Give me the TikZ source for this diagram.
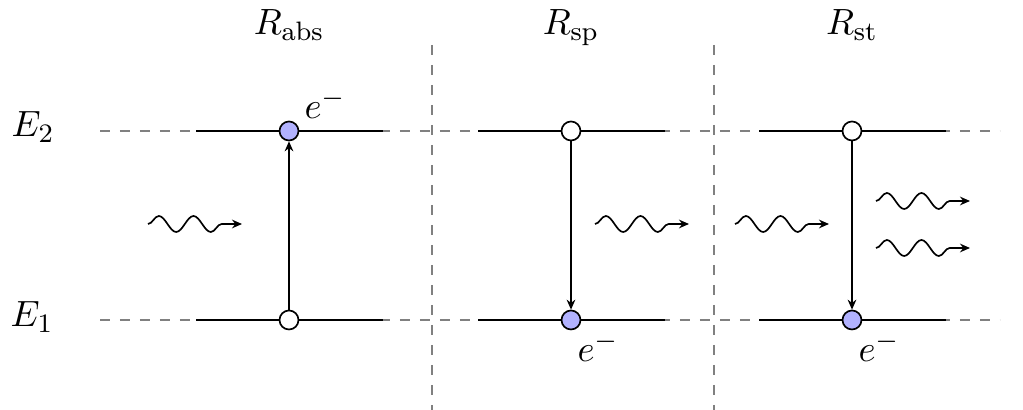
\documentclass[tikz,border=0pt]{standalone}
\usetikzlibrary{arrows.meta,decorations.pathmorphing}
\tikzset{
  guide/.style={gray, dashed, line width=0.4pt},
  level/.style={black, line width=0.5pt},
  state/.style={circle, draw=black, line width=0.5pt, inner sep=0pt, minimum size=5.7pt},
  full/.style={state, fill=blue!30},
  empty/.style={state, fill=white},
  trans/.style={-{Stealth[length=3pt,width=2.6pt]}, line width=0.5pt},
  photon/.style={-{Stealth[length=3pt,width=2.6pt]}, line width=0.5pt, decorate,
    decoration={snake, amplitude=2.4pt, segment length=10.4pt, post length=2pt}},
  lab/.style={inner sep=0pt, anchor=base, font=\fontsize{11}{13}\selectfont}
}
\begin{document}
\begin{tikzpicture}[x=0.3pt,y=-0.3pt]
\useasboundingbox (0,0) rectangle (1023,410);
% guides
\coordinate (h2a) at (100,131); \coordinate (h2b) at (1000,131);
\coordinate (h1a) at (100,320); \coordinate (h1b) at (1000,320);
\coordinate (v1a) at (432,45); \coordinate (v1b) at (432,410);
\coordinate (v2a) at (714,45); \coordinate (v2b) at (714,410);
\draw[guide] (h2a) -- (h2b);
\draw[guide] (h1a) -- (h1b);
\draw[guide] (v1a) -- (v1b);
\draw[guide] (v2a) -- (v2b);
% labels
\node[lab] (E2) at (33,137) {$E_2$};
\node[lab] (E1) at (32,327) {$E_1$};
\node[lab] (Ra) at (289,35) {$R_{\mathrm{abs}}$};
\node[lab] (Rs) at (571,35) {$R_{\mathrm{sp}}$};
\node[lab] (Rt) at (852,35) {$R_{\mathrm{st}}$};
% levels
\foreach \cx/\n in {289/a,571/b,852/c}{
  \coordinate (\n2l) at (\cx-93,131); \coordinate (\n2r) at (\cx+94,131);
  \coordinate (\n1l) at (\cx-93,320); \coordinate (\n1r) at (\cx+94,320);
  \draw[level] (\n2l) -- (\n2r);
  \draw[level] (\n1l) -- (\n1r);
}
% states
\node[full]  (a2) at (289,131) {};
\node[empty] (a1) at (289,320) {};
\node[empty] (b2) at (571,131) {};
\node[full]  (b1) at (571,320) {};
\node[empty] (c2) at (852,131) {};
\node[full]  (c1) at (852,320) {};
\draw[trans] (a1) -- (a2);
\draw[trans] (b2) -- (b1);
\draw[trans] (c2) -- (c1);
\node[lab] (ea) at (325,119) {$e^-$};
\node[lab] (eb) at (598,362) {$e^-$};
\node[lab] (ec) at (879,362) {$e^-$};
% photons
\coordinate (p1s) at (148,224); \coordinate (p1e) at (242,224);
\coordinate (p2s) at (595,224); \coordinate (p2e) at (689,224);
\coordinate (p3s) at (735,224); \coordinate (p3e) at (829,224);
\coordinate (p4s) at (876,201); \coordinate (p4e) at (970,201);
\coordinate (p5s) at (876,248); \coordinate (p5e) at (970,248);
\draw[photon] (p1s) -- (p1e);
\draw[photon] (p2s) -- (p2e);
\draw[photon] (p3s) -- (p3e);
\draw[photon] (p4s) -- (p4e);
\draw[photon] (p5s) -- (p5e);
\end{tikzpicture}
\end{document}
